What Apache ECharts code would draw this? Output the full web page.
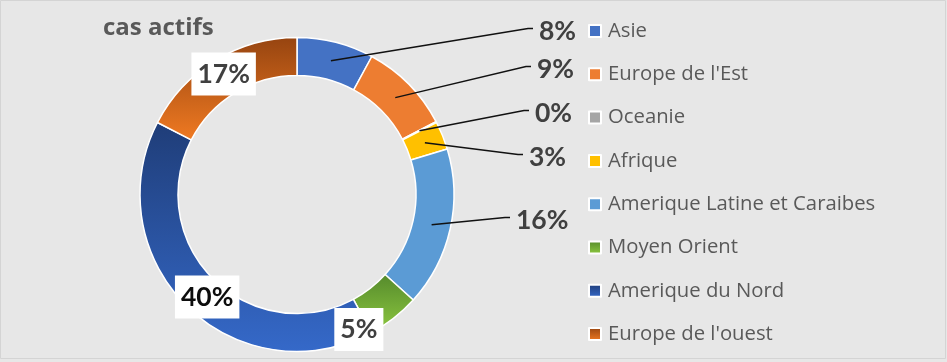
<!DOCTYPE html>
<html>
<head>
<meta charset="utf-8">
<script src="https://cdn.jsdelivr.net/npm/echarts@6/dist/echarts.min.js"></script>
<style>
html,body{margin:0;padding:0;background:#e7e7e7;}
#chart{width:947px;height:362px;}
</style>
</head>
<body>
<div id="chart"></div>
<script>
// ---- data ----
const titleText = 'cas actifs';
const categories = ['Asie', "Europe de l'Est", 'Oceanie', 'Afrique', 'Amerique Latine et Caraibes', 'Moyen Orient', 'Amerique du Nord', "Europe de l'ouest"];
const values = [7.9, 9.4, 0.1, 2.9, 16.4, 5.4, 40.4, 17.4];

// ---- styles / layout ----
const CX = 297, CY = 194.5, R_IN = 119, R_OUT = 157;
const R_MID = (R_IN + R_OUT) / 2;
function vgrad(top, bottom) {
  return new echarts.graphic.LinearGradient(0, 0, 0, 1, [
    { offset: 0, color: top }, { offset: 1, color: bottom }
  ]);
}
const colors = [
  '#4472c4',
  '#ed7d31',
  '#a5a5a5',
  '#ffc000',
  '#5b9bd5',
  vgrad('#558a2c', '#8ec940'),
  vgrad('#1f3d78', '#3569c9'),
  vgrad('#964410', '#f07a22')
];
// label placement: outside labels (left x, center y) and inside label offsets
const outsideLabelPos = { 0: [539, 31], 1: [537, 69], 2: [535, 113], 3: [529, 157], 4: [516, 220] };
const insideLabelOffset = { 5: [-25, 24], 6: [9, 2], 7: [0, 0] };
const insideLabelColor = { 5: '#404040', 6: '#0d0d0d', 7: '#404040' };

const total = values.reduce((a, b) => a + b, 0);
const LABEL_FONT = 'Lato';

const ringData = categories.map((name, i) => ({
  name: name,
  value: values[i],
  itemStyle: { color: colors[i] }
}));

const labelData = categories.map((name, i) => {
  const inside = insideLabelOffset[i] !== undefined;
  return {
    name: name,
    value: values[i],
    label: inside ? {
      position: 'inside',
      offset: insideLabelOffset[i],
      backgroundColor: '#ffffff',
      padding: [8, 6, 8, 6],
      color: insideLabelColor[i]
    } : {
      position: 'outside',
      color: '#404040'
    },
    labelLine: { show: !inside }
  };
});

const chart = echarts.init(document.getElementById('chart'), null, { renderer: 'canvas' });
chart.setOption({
  backgroundColor: '#e7e7e7',
  animation: false,
  title: {
    text: titleText,
    left: 98,
    top: 11,
    padding: 5,
    textStyle: { fontFamily: 'Open Sans', fontWeight: 'bold', fontSize: 24, color: '#595959' }
  },
  legend: {
    orient: 'vertical',
    left: 588,
    top: 21,
    padding: 0,
    itemWidth: 12,
    itemHeight: 12,
    itemGap: 23.3,
    icon: 'rect',
    itemStyle: { borderColor: '#ffffff', borderWidth: 2 },
    textStyle: { fontFamily: 'Open Sans', fontSize: 20.3, color: '#595959', padding: [0, 0, 0, 2] },
    data: categories,
    selectedMode: false
  },
  graphic: [{
    type: 'rect',
    shape: { x: 0.5, y: 0.5, width: 945, height: 358 },
    style: { fill: 'none', stroke: '#d4d4d4', lineWidth: 1 },
    silent: true
  }],
  series: [{
    type: 'pie',
    name: 'ring',
    center: [CX, CY],
    radius: [R_IN, R_OUT],
    startAngle: 90,
    clockwise: true,
    z: 2,
    itemStyle: { borderColor: '#ffffff', borderWidth: 1.5 },
    emphasis: { disabled: true },
    label: { show: false },
    labelLine: { show: false },
    data: ringData
  }, {
    type: 'pie',
    name: 'labels',
    center: [CX, CY],
    radius: [R_IN, R_OUT],
    startAngle: 90,
    clockwise: true,
    z: 5,
    silent: true,
    legendHoverLink: false,
    avoidLabelOverlap: false,
    minShowLabelAngle: 0,
    itemStyle: { color: 'rgba(0,0,0,0)', borderWidth: 0 },
    emphasis: { disabled: true },
    label: {
      show: true,
      fontFamily: LABEL_FONT,
      fontWeight: 'bold',
      fontSize: 26.5,
      color: '#404040',
      formatter: p => Math.round(p.value / total * 100) + '%'
    },
    labelLine: {
      show: true,
      length: 10,
      length2: 10,
      lineStyle: { color: '#111111', width: 1.5 }
    },
    labelLayout: function (params) {
      const pos = outsideLabelPos[params.dataIndex];
      if (!pos || !params.labelLinePoints) return {};
      const p0 = params.labelLinePoints[0];
      const k = R_MID / R_OUT;
      const start = [CX + (p0[0] - CX) * k, CY + (p0[1] - CY) * k];
      const end = [pos[0] - 6, pos[1] - 2.5];
      return {
        x: pos[0],
        y: pos[1],
        labelLinePoints: [start, [end[0] - 5, end[1]], end]
      };
    },
    data: labelData
  }]
});
</script>
</body>
</html>
